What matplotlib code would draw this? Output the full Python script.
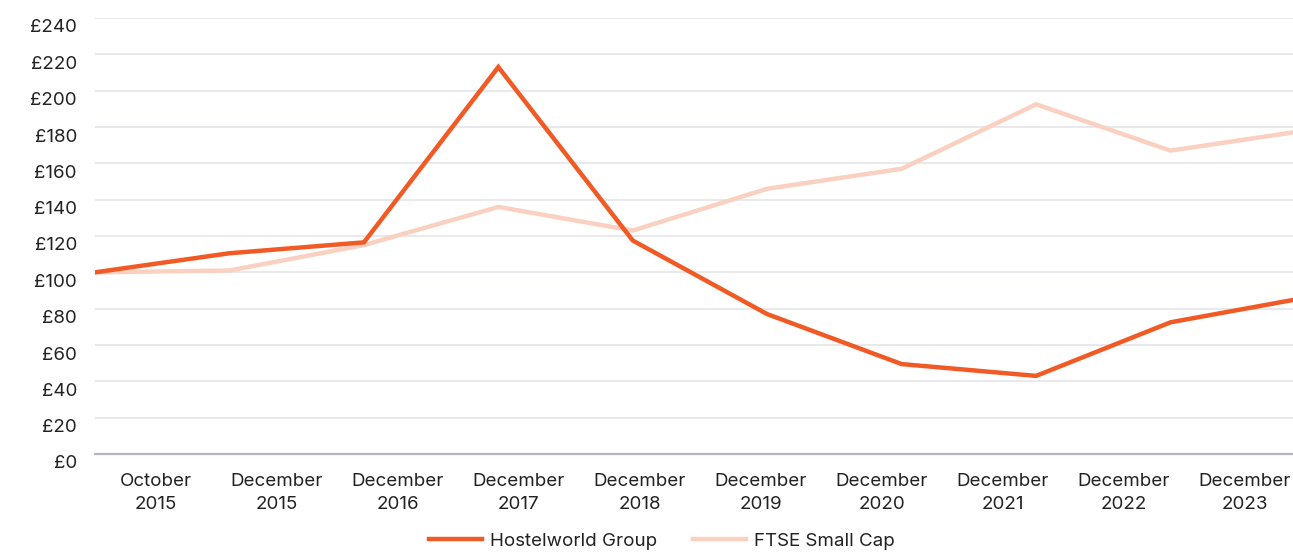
import matplotlib.pyplot as plt
import matplotlib.transforms as mtransforms
import numpy as np

plt.rcParams['font.family'] = ['Inter', 'DejaVu Sans']

categories = ['October\n2015', 'December\n2015', 'December\n2016', 'December\n2017',
              'December\n2018', 'December\n2019', 'December\n2020', 'December\n2021',
              'December\n2022', 'December\n2023']
hostelworld = [100, 110.5, 116.5, 213, 117.5, 77, 49.5, 43, 72.5, 86]
ftse_small_cap = [100, 101, 115, 136, 123, 146, 157, 192.5, 167, 178]
y_ticks = list(range(0, 241, 20))

fig = plt.figure(figsize=(12.93, 5.52), dpi=100)
# axes runs slightly past the right edge, like the original crop
ax = fig.add_axes([95 / 1293, 1 - 454 / 552, 1210 / 1293, 436 / 552])

x = np.arange(len(categories))
ax.plot(x, ftse_small_cap, color='#FAD0C0', linewidth=3.2, label='FTSE Small Cap',
        solid_joinstyle='miter', zorder=3)
ax.plot(x, hostelworld, color='#F15A24', linewidth=3.2, label='Hostelworld Group',
        solid_joinstyle='miter', zorder=4)

ax.set_xlim(0, len(categories) - 1)
ax.set_ylim(0, 240)
ax.set_yticks(y_ticks)
ax.set_yticklabels([f'£{v}' for v in y_ticks])

# category labels sit in equal slots across the axis width
slot = (len(categories) - 1) / len(categories)
ax.set_xticks([(i + 0.5) * slot for i in range(len(categories))])
ax.set_xticklabels(categories, linespacing=1.4)

ax.tick_params(axis='both', length=0, labelsize=13.5, colors='#222222')
ax.tick_params(axis='y', pad=13)
ax.tick_params(axis='x', pad=14)

# y labels sit a little below their gridlines
shift = mtransforms.ScaledTranslation(0, -8 / 100, fig.dpi_scale_trans)
for lab in ax.get_yticklabels():
    lab.set_transform(lab.get_transform() + shift)

ax.grid(axis='y', color='#E2E2E8', linewidth=1.1, zorder=0)
ax.set_axisbelow(True)
for side in ['top', 'right', 'left']:
    ax.spines[side].set_visible(False)
ax.spines['bottom'].set_color('#B4B4BC')
ax.spines['bottom'].set_linewidth(1.6)

handles, labels = ax.get_legend_handles_labels()
fig.legend(handles[::-1], labels[::-1], loc='center', bbox_to_anchor=(662 / 1293, 1 - 541 / 552),
           ncol=2, frameon=False, fontsize=13.5, handlelength=2.8, handletextpad=0.45,
           columnspacing=1.9, labelcolor='#222222')

fig.savefig('out.png', dpi=100)
